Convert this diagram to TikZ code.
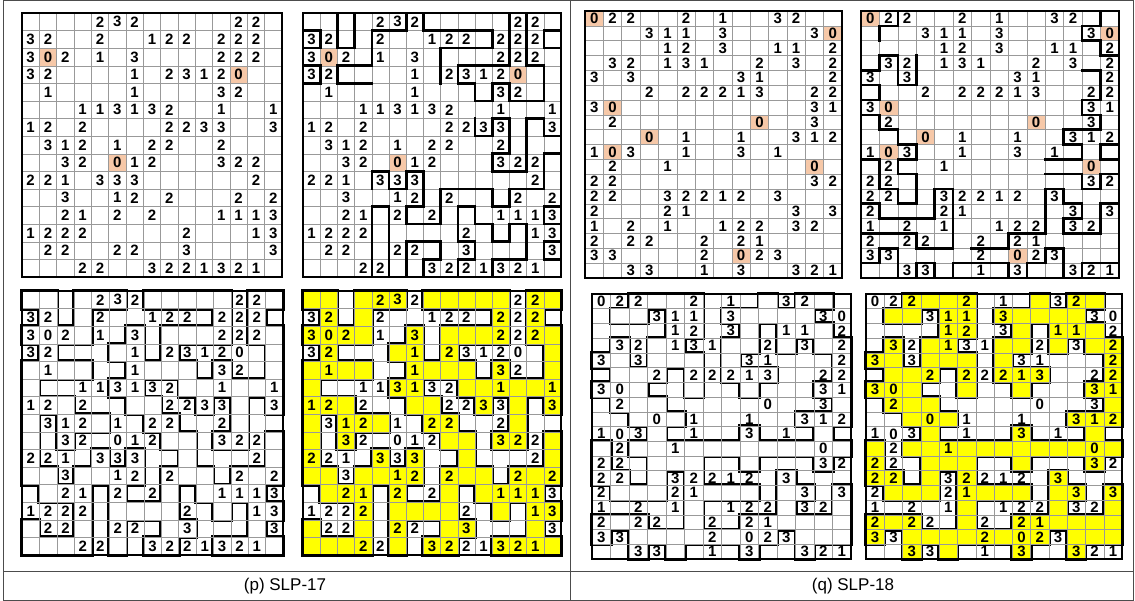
\documentclass[tikz,border=0pt]{standalone}
\usepackage{fontspec}
\setmainfont{Liberation Sans}
\usetikzlibrary{positioning}

\definecolor{zerofill}{HTML}{F6C8A8}
\definecolor{insidefill}{HTML}{FFFF00}

\tikzset{
  gridline/.style={black!40, line width=0.5pt},
  gridframe/.style={black, line width=1.6pt},
  loopline/.style={black, line width=2.6pt, line cap=rect, line join=miter},
  clue/.style={font=\fontsize{15}{15}\selectfont\bfseries, inner sep=0pt},
  tableline/.style={black!70, line width=0.8pt},
  caption/.style={font=\fontsize{17}{17}\selectfont, inner sep=1pt}
}

% grid of #1 columns and #2 rows
\newcommand{\cellgrid}[2]{%
  \foreach \i in {1,...,#1} {\draw[gridline] (\i,0) -- (\i,#2);}
  \foreach \j in {1,...,#2} {\draw[gridline] (0,\j) -- (#1,\j);}
  \draw[gridframe] (0,0) rectangle (#1,#2);}
\newcommand{\clues}[1]{\foreach \r/\c/\v in #1 {\node[clue] at (\c+0.5,\r+0.5) {\v};}}
\newcommand{\zerocells}[1]{\foreach \r/\c in #1 {\fill[zerofill] (\c,\r) rectangle (\c+1,\r+1);}}
% cells inside the loop: black rim, then fill
\newcommand{\inside}[2]{%
  \foreach \r/\cs in #1 {\foreach \c in \cs {\fill[black] ([shift={(-2pt,2pt)}]\c,\r) rectangle ([shift={(2pt,-2pt)}]\c+1,\r+1);}}
  \foreach \r/\cs in #1 {\foreach \c in \cs {\fill[#2] (\c,\r) rectangle (\c+1,\r+1);}}}

% SLP-17 data
\def\clueP{0/4/2,0/5/3,0/6/2,0/12/2,0/13/2,
1/0/3,1/1/2,1/4/2,1/7/1,1/8/2,1/9/2,1/11/2,1/12/2,1/13/2,
2/0/3,2/1/0,2/2/2,2/4/1,2/6/3,2/11/2,2/12/2,2/13/2,
3/0/3,3/1/2,3/6/1,3/8/2,3/9/3,3/10/1,3/11/2,3/12/0,
4/1/1,4/6/1,4/11/3,4/12/2,
5/3/1,5/4/1,5/5/3,5/6/1,5/7/3,5/8/2,5/11/1,5/14/1,
6/0/1,6/1/2,6/3/2,6/8/2,6/9/2,6/10/3,6/11/3,6/14/3,
7/1/3,7/2/1,7/3/2,7/5/1,7/7/2,7/8/2,7/11/2,
8/2/3,8/3/2,8/5/0,8/6/1,8/7/2,8/11/3,8/12/2,8/13/2,
9/0/2,9/1/2,9/2/1,9/4/3,9/5/3,9/6/3,9/13/2,
10/2/3,10/5/1,10/6/2,10/8/2,10/12/2,10/14/2,
11/2/2,11/3/1,11/5/2,11/7/2,11/11/1,11/12/1,11/13/1,11/14/3,
12/0/1,12/1/2,12/2/2,12/3/2,12/9/2,12/13/1,12/14/3,
13/1/2,13/2/2,13/5/2,13/6/2,13/9/3,13/14/3,
14/3/2,14/4/2,14/7/3,14/8/2,14/9/2,14/10/1,14/11/3,14/12/2,14/13/1}
\def\zeroP{2/1,3/12,8/5}
\def\insideP{0/{0,1,3,4,5,7,8,9,10,11,13,14},1/{1,3,11,13},
2/{0,1,2,3,6,8,9,10,11,13,14},3/{1,5,6,8,14},4/{0,1,2,3,6,7,8,9,11,14},
5/{0,5,6,9,10,11,12,13,14},6/{0,1,2,6,7,10,12,14},7/{0,2,3,4,7,8,12},
8/{0,2,8,9,11,12,14},9/{0,4,6,9,14},10/{0,1,3,4,5,6,8,9,10,12,13,14},
11/{1,2,3,5,8,10,11,12,13},12/{3,5,6,7,8,11,13,14},13/{0,3,5,8,9,13},
14/{0,1,2,3,5,7,8,11,12,13,14}}

% SLP-18 data
\def\clueQ{0/0/0,0/1/2,0/2/2,0/5/2,0/7/1,0/10/3,0/11/2,
1/3/3,1/4/1,1/5/1,1/7/3,1/12/3,1/13/0,
2/4/1,2/5/2,2/7/3,2/10/1,2/11/1,2/13/2,
3/1/3,3/2/2,3/4/1,3/5/3,3/6/1,3/9/2,3/11/3,3/13/2,
4/0/3,4/2/3,4/8/3,4/9/1,4/13/2,
5/3/2,5/5/2,5/6/2,5/7/2,5/8/1,5/9/3,5/12/2,5/13/2,
6/0/3,6/1/0,6/12/3,6/13/1,
7/1/2,7/9/0,7/12/3,
8/3/0,8/5/1,8/8/1,8/11/3,8/12/1,8/13/2,
9/0/1,9/1/0,9/2/3,9/5/1,9/8/3,9/10/1,
10/1/2,10/4/1,10/12/0,
11/0/2,11/1/2,11/12/3,11/13/2,
12/0/2,12/1/2,12/4/3,12/5/2,12/6/2,12/7/1,12/8/2,12/10/3,
13/0/2,13/4/2,13/5/1,13/11/3,13/13/3,
14/0/1,14/2/2,14/4/1,14/7/1,14/8/2,14/9/2,14/11/3,14/12/2,
15/0/2,15/2/2,15/3/2,15/6/2,15/8/2,15/9/1,
16/0/3,16/1/3,16/6/2,16/8/0,16/9/2,16/10/3,
17/2/3,17/3/3,17/6/1,17/8/3,17/11/3,17/12/2,17/13/1}
\def\zeroQ{0/0,1/13,6/1,7/9,8/3,9/1,10/12,16/8}
\def\insideQ{0/{2,3,4,5,9,11,12},1/{1,2,4,5,7,8,9,10,11},2/{4,5,8,10,11,12},
3/{1,3,4,7,8,10,12,13},4/{0,1,3,4,5,7,13},5/{1,2,3,5,7,8,9,13},
6/{0,1,2,5,8,12,13},7/{1,2,3,13},8/{2,3,4,11,12,13},9/{3,8,12},
10/{0,2,3,4,5,6,7,8,9,10,11,12,13},11/{0,3,4,5,8,12},12/{0,1,3,5,10},
13/{1,2,3,5,6,7,8,10,11,13},14/{5,10,13},15/{0,1,2,5,8,9,10,11,12,13},
16/{0,2,3,4,5,6,7,8,9,11,12,13},17/{2,4,8,11}}

\begin{document}
\begin{tikzpicture}[x=1pt, y=-1pt]
\useasboundingbox (0,0) rectangle (1135,601);
\fill[white] (0,0) rectangle (1135,601);

% table
\draw[tableline] (3,0.5) rectangle (1133,600);
\draw[tableline] (570,0.5) -- (570,600);
\draw[tableline] (3,571) -- (1133,571);

% (p) puzzle
\begin{scope}[shift={(22,13)}, x=17.33pt, y=-17.6pt]
  \zerocells{\zeroP}
  \cellgrid{15}{15}
  \clues{\clueP}
\end{scope}

% (p) partial solution
\begin{scope}[shift={(303,13)}, x=17.2pt, y=-17.6pt]
  \zerocells{\zeroP}
  \cellgrid{15}{15}
  \draw[loopline] (0,1) -- (1,1) -- (1,2) -- (0,2) -- (0,3) -- (1,3) -- (1,4) -- (0,4);
  \draw[loopline] (2,0) -- (2,2) -- (3,2) -- (3,0) -- (6,0) -- (6,1) -- (4,1) -- (4,3) -- (2,3) -- (2,4) -- (4,4);
  \draw[loopline] (8,4) -- (8,2) -- (11,2) -- (11,1) -- (7,1) -- (7,0) -- (12,0) -- (12,3) -- (9,3) -- (9,4) -- (10,4) -- (10,5) -- (11,5) -- (11,4) -- (12,4) -- (12,5) -- (14,5) -- (14,3) -- (13,3) -- (13,0) -- (15,0) -- (15,1) -- (14,1) -- (14,2) -- (15,2);
  \draw[loopline] (10,6) -- (10,7) -- (11,7) -- (11,6) -- (12,6) -- (12,8) -- (11,8) -- (11,9) -- (13,9) -- (13,6) -- (14,6) -- (14,7) -- (15,7);
  \draw[loopline] (15,8) -- (14,8) -- (14,10) -- (12,10) -- (12,11) -- (11,11) -- (11,10) -- (8,10) -- (8,12) -- (6,12) -- (6,11) -- (7,11) -- (7,9) -- (6,9) -- (6,10) -- (5,10) -- (5,9) -- (4,9) -- (4,10);
  \draw[loopline] (0,15) -- (4,15) -- (4,11) -- (5,11) -- (5,15) -- (6,15) -- (6,13) -- (8,13) -- (8,14) -- (7,14) -- (7,15) -- (9,15) -- (9,14) -- (10,14) -- (10,13) -- (9,13) -- (9,11) -- (10,11) -- (10,12) -- (11,12) -- (11,13) -- (12,13) -- (12,12) -- (13,12) -- (13,14) -- (11,14) -- (11,15);
  \draw[loopline] (15,11) -- (14,11) -- (14,12) -- (15,12);
  \draw[loopline] (15,13) -- (14,13) -- (14,14) -- (15,14);
  \clues{\clueP}
\end{scope}

% (p) loop
\begin{scope}[shift={(22,291)}, x=17.4pt, y=-17.6pt]
  \inside{\insideP}{white}
  \cellgrid{15}{15}
  \clues{\clueP}
\end{scope}

% (p) inside of the loop
\begin{scope}[shift={(303,291)}, x=17.2pt, y=-17.6pt]
  \inside{\insideP}{insidefill}
  \cellgrid{15}{15}
  \clues{\clueP}
\end{scope}

% (q) puzzle
\begin{scope}[shift={(585,11)}, x=18.36pt, y=-14.83pt]
  \zerocells{\zeroQ}
  \cellgrid{14}{18}
  \clues{\clueQ}
\end{scope}

% (q) partial solution
\begin{scope}[shift={(861,11)}, x=18.43pt, y=-14.83pt]
  \zerocells{\zeroQ}
  \cellgrid{14}{18}
  \draw[loopline] (1,2) -- (1,1) -- (2,1) -- (2,0) -- (13,0) -- (13,1) -- (12,1) -- (12,2) -- (13,2) -- (13,3) -- (14,3) -- (14,9) -- (13,9) -- (13,10) -- (14,10) -- (14,11) -- (13,11) -- (13,12) -- (12,12) -- (12,11) -- (10,11);
  \draw[loopline] (12,4) -- (13,4) -- (13,6) -- (12,6) -- (12,7) -- (13,7) -- (13,8) -- (11,8) -- (11,9) -- (12,9) -- (12,10) -- (10,10);
  \draw[loopline] (3,3) -- (3,5) -- (2,5) -- (2,3) -- (1,3) -- (1,4) -- (0,4) -- (0,5) -- (1,5) -- (1,6) -- (0,6) -- (0,7) -- (1,7) -- (1,8) -- (2,8) -- (2,9) -- (3,9) -- (3,10) -- (2,10) -- (2,11) -- (3,11) -- (3,13) -- (2,13) -- (2,12) -- (1,12) -- (1,10) -- (0,10) -- (0,13) -- (1,13) -- (1,14) -- (4,14) -- (4,12) -- (5,12) -- (5,16) -- (3,16) -- (3,15) -- (0,15) -- (0,17) -- (1,17) -- (1,16) -- (2,16) -- (2,18) -- (3,18) -- (3,17) -- (4,17) -- (4,18) -- (5,18) -- (5,17) -- (8,17) -- (8,18) -- (9,18) -- (9,17) -- (10,17) -- (10,16) -- (11,16) -- (11,18) -- (12,18) -- (12,17) -- (14,17) -- (14,13) -- (13,13) -- (13,15) -- (11,15) -- (11,14) -- (12,14) -- (12,13) -- (11,13) -- (11,12) -- (10,12) -- (10,15) -- (8,15) -- (8,16) -- (6,16);
  \clues{\clueQ}
\end{scope}

% (q) loop
\begin{scope}[shift={(592,294)}, x=18.5pt, y=-14.72pt]
  \inside{\insideQ}{white}
  \cellgrid{14}{18}
  \clues{\clueQ}
\end{scope}

% (q) inside of the loop
\begin{scope}[shift={(866,294)}, x=18.29pt, y=-14.72pt]
  \inside{\insideQ}{insidefill}
  \cellgrid{14}{18}
  \clues{\clueQ}
\end{scope}

% captions
\node[caption] (capP) at (285,586) {(p) SLP-17};
\node[caption] (capQ) at (853,586) {(q) SLP-18};
\end{tikzpicture}
\end{document}
